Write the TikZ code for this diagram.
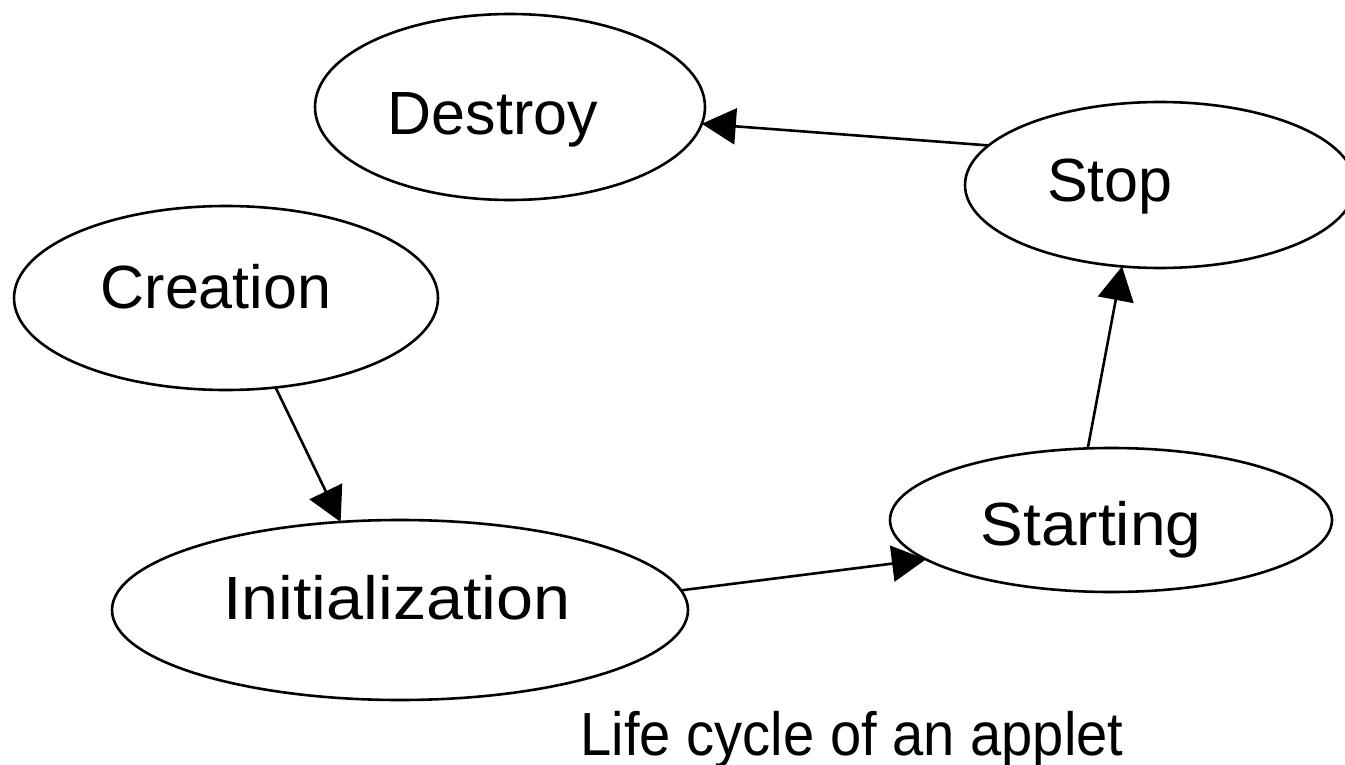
\documentclass[tikz,border=0pt]{standalone}
\usepackage{fontspec}
\setmainfont{Liberation Sans}
\usepackage{graphicx}
\usetikzlibrary{shapes.geometric,arrows.meta}
\begin{document}
\begin{tikzpicture}[x=0.5pt,y=-0.5pt,
  stateshape/.style={draw, ellipse, line width=1.3pt, inner sep=0pt, outer sep=0pt},
  lbl/.style={font=\fontsize{30.5}{36}\selectfont, inner sep=0pt, outer sep=0pt, anchor=base},
  conn/.style={line width=1.3pt, -{Triangle[length=17pt,width=18pt]}}]
\fill[white] (0,0) rectangle (1345,765);
\useasboundingbox (0,0) rectangle (1345,765);
% states
\node[stateshape, minimum width=195pt, minimum height=93pt] (destroy) at (510,107) {};
\node[stateshape, minimum width=195pt, minimum height=83pt] (stop) at (1160,185) {};
\node[stateshape, minimum width=212pt, minimum height=92pt] (creation) at (226,298) {};
\node[stateshape, minimum width=288pt, minimum height=90pt] (initialization) at (400,610) {};
\node[stateshape, minimum width=221pt, minimum height=72pt] (starting) at (1111,520) {};
% labels
\node[lbl] (destroyT) at (493,135) {Destroy};
\node[lbl] (stopT) at (1110,202) {Stop};
\node[lbl] (creationT) at (216,308) {Creation};
\node[lbl] (initT) at (397,619) {\scalebox{1.09}[1]{Initialization}};
\node[lbl] (startT) at (1091,545) {\scalebox{1.05}[1]{Starting}};
\node[lbl] (caption) at (852,755) {\scalebox{0.92}[1]{Life cycle of an applet}};
% transitions
\draw[conn] (stop.167.6) -- (destroy.-5.4);
\draw[conn] (creation.-61.7) -- (initialization.124.1);
\draw[conn] (initialization.4.5) -- (starting.192);
\draw[conn] (starting.108.4) -- (stop.-115.2);
\end{tikzpicture}
\end{document}
